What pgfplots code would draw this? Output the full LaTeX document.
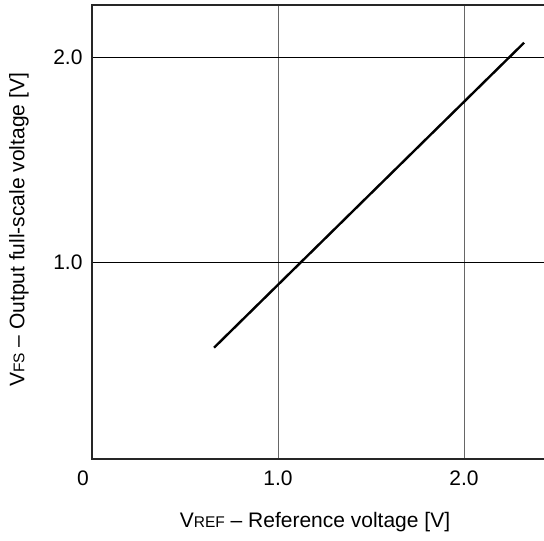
\documentclass[border=0pt]{standalone}
\usepackage{fontspec}
\setmainfont{Liberation Sans}
\usepackage{pgfplots}
\pgfplotsset{compat=1.18}
\newcommand{\sm}[1]{{\fontsize{15.5}{18}\selectfont #1}}
\begin{document}
\begin{tikzpicture}[x=1pt,y=1pt,font=\fontsize{21}{25}\selectfont]
\begin{axis}[
  at={(92pt,82pt)}, anchor=south west,
  scale only axis, width=452pt, height=454pt,
  xmin=0, xmax=2.43, ymin=0.039, ymax=2.254,
  xtick={0,1,2}, ytick={1,2},
  xticklabels={\llap{0\kern-2.7pt}\phantom{0}, 1.0, 2.0},
  yticklabels={1.0,2.0},
  /pgf/number format/assume math mode=true,
  tick style={draw=none},
  ticklabel style={font=\fontsize{21}{25}\selectfont},
  xticklabel style={yshift=-8pt},
  yticklabel style={xshift=-6pt},
  xmajorgrids, ymajorgrids,
  x grid style={draw=black!60, line width=0.9pt},
  y grid style={draw=black, line width=0.8pt},
  axis line style={draw=none},
  clip=false,
]
\addplot[black, line width=2.4pt, line cap=butt] coordinates {(0.656,0.582) (2.323,2.07)};
\draw[black!85, line width=2pt] (rel axis cs:0,0) -- (rel axis cs:1,0);
\draw[black!85, line width=2pt] (rel axis cs:0,-0.002) -- (rel axis cs:0,1.002);
\draw[black!85, line width=2pt] (rel axis cs:0,1) -- (rel axis cs:1,1);
\end{axis}
\node at (315pt,19pt) {V\sm{REF} -- Reference voltage [V]};
\node[rotate=90] at (19pt,311pt) {V\sm{FS} -- Output full-scale voltage [V]};
\pgfresetboundingbox
\useasboundingbox (0,0) rectangle (544pt,541pt);
\end{tikzpicture}
\end{document}
